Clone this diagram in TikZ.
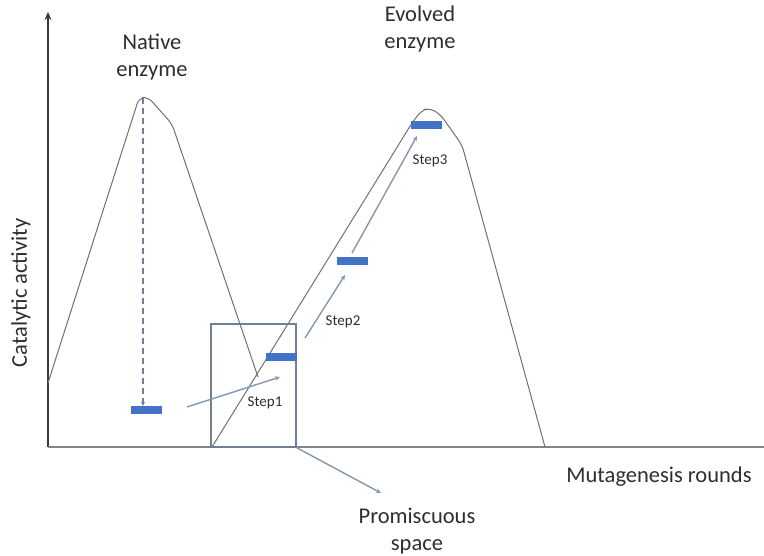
\documentclass[tikz,border=0pt]{standalone}
\usepackage{fontspec}
\setmainfont{Carlito}
\usetikzlibrary{arrows.meta}
\definecolor{barblue}{HTML}{4472C4}
\definecolor{arrblue}{HTML}{8497B0}
\definecolor{curvegray}{HTML}{707070}
\definecolor{axisgray}{HTML}{3A3A3A}
\definecolor{txtgray}{HTML}{2E2E2E}
\tikzset{
  bar/.style={fill=barblue, draw=none, minimum width=31pt, minimum height=8pt, inner sep=0pt},
  curve/.style={draw=curvegray, line width=1pt, rounded corners=6pt},
  stepar/.style={draw=arrblue, line width=1.4pt, -{Stealth[length=5pt,width=4.5pt]}},
  biglbl/.style={font=\fontsize{22.5}{27}\selectfont, text=txtgray, align=center, inner sep=0pt},
  smalllbl/.style={font=\fontsize{15}{18}\selectfont, text=txtgray, inner sep=0pt},
}
\begin{document}
\begin{tikzpicture}[x=1pt,y=-1pt]
\useasboundingbox (0,0) rectangle (764,556);
% axes
\coordinate (origin) at (48,447);
\coordinate (ytop) at (48,12);
\coordinate (xend) at (764,447);
\draw[axisgray, line width=1.8pt, -{Stealth[length=8pt,width=7pt]}] (origin) -- (ytop);
\draw[curvegray!85, line width=2.2pt] (origin) -- (xend);
% native curve
\draw[curve] (48,383) -- (139,98) -- (148,97) -- (172,124) -- (258,377);
% evolved curve
\draw[curve] (212,447) -- (412,123) -- (421,111) -- (429,108) -- (440,114) -- (462,145) -- (545,447);
% promiscuous box
\node[draw=arrblue!85!black, line width=1.4pt, minimum width=85pt, minimum height=123pt, inner sep=0pt] (box) at (253.5,385.5) {};
% bars
\node[bar] (b1) at (146,410) {};
\node[bar] (b2) at (281,357) {};
\node[bar] (b3) at (352,261) {};
\node[bar] (b4) at (426,125) {};
% dashed drop
\coordinate (peak) at (143,98);
\draw[arrblue!85!black, line width=1.2pt, dashed, dash pattern=on 6pt off 4pt, -{Stealth[length=4pt,width=4pt]}] (peak) -- (b1.north -| peak);
% step arrows
\coordinate (s1a) at (187,407);
\coordinate (s1b) at (280,377);
\coordinate (s2a) at (305,338);
\coordinate (s2b) at (345,275);
\coordinate (s3a) at (352,253);
\coordinate (s3b) at (417,136);
\draw[stepar] (s1a) -- (s1b);
\draw[stepar] (s2a) -- (s2b);
\draw[stepar] (s3a) -- (s3b);
\coordinate (pa) at (381,493);
\draw[stepar] (box.south east) -- (pa);
% labels
\node[biglbl] (native) at (152,57) {Native\\enzyme};
\node[biglbl] (evolved) at (420,29) {Evolved\\enzyme};
\node[smalllbl] (st1) at (265,403) {Step1};
\node[smalllbl] (st2) at (343,322) {Step2};
\node[smalllbl] (st3) at (430,161) {Step3};
\node[biglbl, rotate=90] (ylab) at (21,293) {Catalytic activity};
\node[biglbl] (xlab) at (659,477) {Mutagenesis rounds};
\node[biglbl] (prom) at (417,531) {Promiscuous\\space};
\end{tikzpicture}
\end{document}
